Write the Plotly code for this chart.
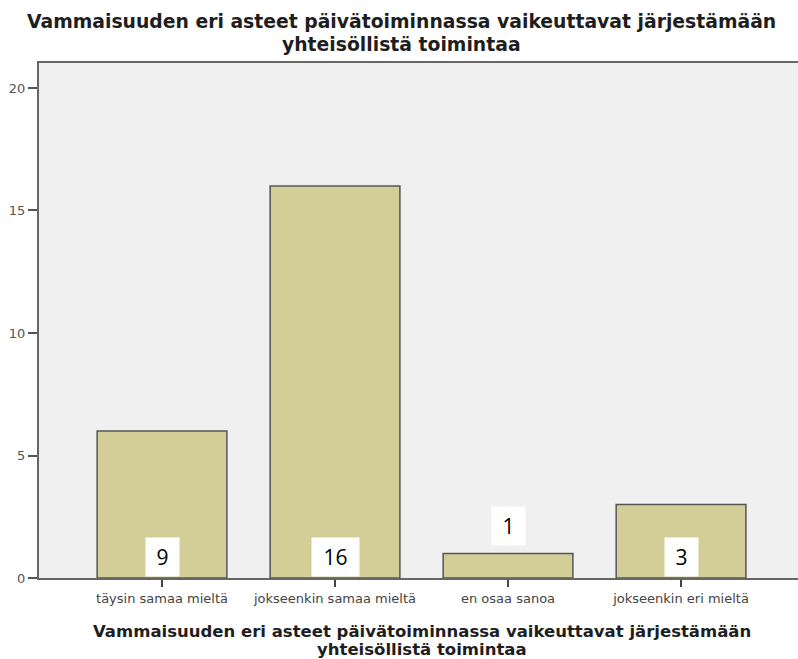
import plotly.graph_objects as go

categories = ["täysin samaa mieltä", "jokseenkin samaa mieltä", "en osaa sanoa", "jokseenkin eri mieltä"]
bar_values = [6, 16, 1, 3]
label_values = [9, 16, 1, 3]
y_ticks = [0, 5, 10, 15, 20]
title_lines = ["Vammaisuuden eri asteet päivätoiminnassa vaikeuttavat järjestämään",
               "yhteisöllistä toimintaa"]

W, H = 798, 659
L, R, T, B = 39, 0, 63, 81
ph = H - T - B

def paper_y(px):
    return (H - B - px) / ph

fig = go.Figure()
fig.add_trace(go.Bar(
    x=categories, y=bar_values, width=0.75,
    marker=dict(color="#D3CE98", line=dict(color="#555555", width=1.5)),
    showlegend=False, hoverinfo="skip",
))

for cat, v, lab in zip(categories, bar_values, label_values):
    inside = v >= 2
    s = str(lab)
    fig.add_annotation(
        x=cat, y=0 if inside else v, xref="x", yref="y",
        text=s, showarrow=False, width=14 * len(s) + 9,
        yanchor="bottom", yshift=1 if inside else 8,
        font=dict(family="Open Sans, Arial", size=21, color="#000000"),
        bgcolor="white", borderpad=5,
    )

title_font = dict(family="DejaVu Sans", size=18.8, color="#1e1e1e")
axis_title_font = dict(family="DejaVu Sans", size=16.5, color="#1e1e1e")
for i, line in enumerate(title_lines):
    fig.add_annotation(text="<b>" + line + "</b>", xref="paper", yref="paper",
                       x=(401 - L) / (W - L - R), y=paper_y(21 + 23 * i),
                       xanchor="center", yanchor="middle", showarrow=False,
                       font=title_font)
    fig.add_annotation(text="<b>" + line + "</b>", xref="paper", yref="paper",
                       x=(422 - L) / (W - L - R), y=paper_y(631 + 18 * i),
                       xanchor="center", yanchor="middle", showarrow=False,
                       font=axis_title_font)

fig.update_layout(
    width=W, height=H,
    margin=dict(l=L, r=R, t=T, b=B),
    paper_bgcolor="white", plot_bgcolor="#F0F0F0",
    font=dict(family="DejaVu Sans"),
)
fig.update_xaxes(
    range=[-0.711, 3.676], showline=True, linecolor="#666666", linewidth=2, mirror=True,
    ticks="outside", ticklen=7, tickcolor="#444444", tickwidth=2,
    tickfont=dict(family="DejaVu Sans", size=13, color="#444444"),
    showgrid=False, fixedrange=True, automargin=False,
)
fig.update_yaxes(
    range=[0, 21.02], tickvals=y_ticks, showline=True, linecolor="#666666", linewidth=2,
    ticks="outside", ticklen=9, tickcolor="#555555", tickwidth=2,
    tickfont=dict(family="DejaVu Sans", size=13, color="#555555"),
    showgrid=False, zeroline=False, automargin=False, fixedrange=True,
)
fig.write_html("out.html", config={"displayModeBar": False, "staticPlot": True})

with open("out.html", encoding="utf-8") as f:
    html = f.read()
html = html.replace("<body>", '<body style="margin:0;padding:0;overflow:hidden">', 1)
with open("out.html", "w", encoding="utf-8") as f:
    f.write(html)
